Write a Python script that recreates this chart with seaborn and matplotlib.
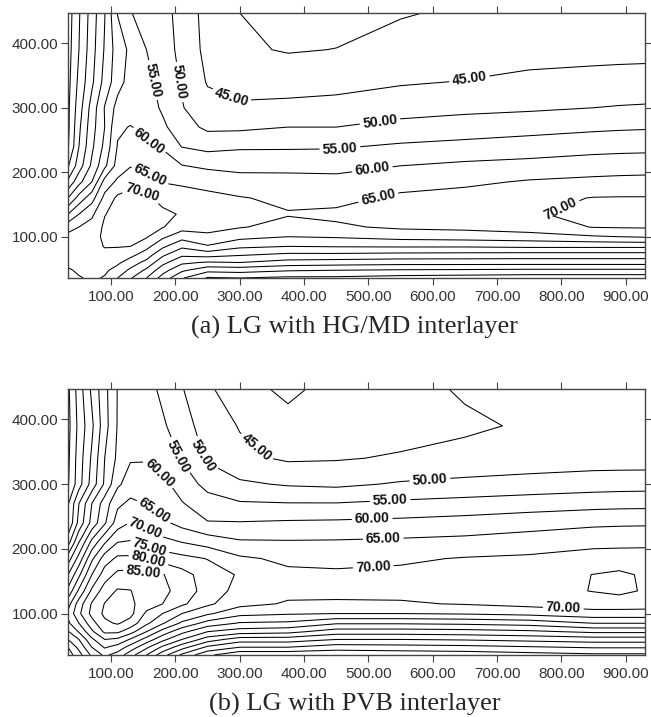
import numpy as np
import matplotlib
matplotlib.use("Agg")
import matplotlib.pyplot as plt
import seaborn as sns
from matplotlib.ticker import FormatStrFormatter

# grid nodes (x along the horizontal axis, y along the vertical axis)
x_nodes = [33, 50, 70, 90, 110, 130, 155, 180, 210, 250, 300, 375, 450, 550, 650, 750, 850, 890, 930]
y_nodes = [36, 48, 60, 72, 85, 100, 115, 135, 160, 185, 210, 240, 270, 300, 340, 390, 447]

# values, one list per x node, bottom to top
hgmd_columns = [
    [62, 64.2, 66.5, 67.5, 67.5, 66.5, 63, 55, 45, 36, 29.5, 24.5, 24, 24, 23.5, 23, 22.5],
    [64.5, 66, 67.5, 68.5, 68.5, 67.5, 65, 60, 52, 43.5, 37.5, 35, 34, 32.7, 31.3, 30, 29.5],
    [66, 67, 68, 68.5, 68.5, 68, 67, 64, 58, 50, 46, 44, 43, 42, 39, 38, 37.3],
    [64.5, 66, 67.5, 69, 70.2, 71, 70.8, 69.8, 66.5, 62, 53.8, 51.3, 50, 50.3, 46.8, 45.5, 44.8],
    [60, 63, 66, 68.5, 70.2, 71.3, 71.8, 71.5, 71, 66, 62, 60.3, 59.3, 56.8, 53, 52.5, 55.2],
    [55.5, 59, 62.5, 66.5, 70, 72, 72.8, 72.6, 71.6, 68.5, 64.7, 62.3, 60.2, 58, 57, 56, 55.3],
    [50, 54, 58.5, 62.5, 66.5, 70.5, 72, 72.3, 71, 67.5, 63.3, 60.7, 58.8, 57.3, 56.3, 55, 52.5],
    [43, 47, 51.5, 56, 61, 66, 70.3, 71.2, 68.3, 64.8, 62.5, 59.5, 56, 54.3, 53.3, 52.2, 51.5],
    [35.5, 41, 46, 51, 56, 62, 67, 69.5, 67, 64.3, 60.2, 54.8, 52, 50.3, 49.5, 48.7, 48.5],
    [29.5, 36.5, 44.5, 52, 59.5, 64, 66.5, 67.5, 66.2, 63.5, 59, 53.5, 49, 46.8, 44.6, 43.5, 43],
    [30, 37, 45, 50.5, 56, 61.5, 65.3, 67, 65.3, 62, 58.5, 54.3, 49, 46, 42.5, 40.8, 40],
    [29, 35.5, 43, 49, 55, 60, 63.5, 65.3, 64, 61.5, 58.8, 54.3, 50, 46, 43.3, 39.6, 38.5],
    [29, 35, 42.5, 49, 55.3, 60.5, 64.3, 66, 63.5, 61.5, 58.5, 54.5, 50, 46.5, 43.5, 40.1, 38],
    [28, 34.5, 42, 48.5, 55.5, 61.8, 65.8, 67.2, 66, 63, 60, 55.7, 51.5, 48, 44.5, 41.5, 39.7],
    [27.5, 34.3, 42, 48.3, 55.5, 62.3, 66.3, 67.8, 67, 64, 61, 56.5, 52.3, 48.8, 45.2, 42.3, 40.6],
    [27, 34, 42, 48, 56, 63, 67.5, 69.5, 68.5, 65.5, 61.5, 57.5, 53, 49.3, 46.2, 43, 41],
    [27, 34, 42, 48, 56, 64.5, 70.2, 71.3, 70.2, 66.2, 62.5, 58.2, 54, 50, 46.7, 43.3, 41.3],
    [27, 34, 42, 48, 56, 65, 70.4, 71.4, 70.3, 66.4, 62.8, 58.4, 54.3, 50.3, 46.9, 43.4, 41.4],
    [27, 34, 42, 48, 56, 65.5, 70.5, 71.5, 70.3, 66.5, 63, 58.5, 54.5, 50.5, 47, 43.5, 41.5],
]

# values
pvb_columns = [
    [52.5, 55, 60, 64.5, 69, 71, 68, 61.5, 55, 47.5, 38, 30.5, 29.5, 24.5, 24, 23.5, 24],
    [58, 61.5, 65, 70.5, 75, 79, 77.5, 71, 64, 57, 50, 41.7, 40, 33, 32.5, 31.5, 32.5],
    [66, 70, 74, 79, 83, 86.5, 85.5, 81, 75, 69, 61.5, 51.7, 50, 42, 40.8, 39, 41],
    [71, 75.5, 80, 86, 89, 91, 90.2, 87.5, 82.5, 77.5, 69.5, 59.3, 57.5, 50.8, 50, 48, 48.5],
    [68, 73, 79, 86, 90.5, 92.5, 91.5, 90.5, 86.3, 81, 75, 67.5, 64, 59, 56, 55.3, 55.2],
    [62, 68, 74.5, 82, 88, 91.5, 91, 90.2, 86.8, 81, 75.5, 70.3, 66, 62.5, 59.5, 58, 57.5],
    [55, 61, 68, 75, 81, 84, 87.5, 87, 86, 80.2, 73.5, 68.5, 64.8, 63, 59.5, 57.5, 57],
    [47, 54, 61.5, 68, 75.5, 80, 85, 86, 85.3, 78, 71.5, 66.2, 62.5, 61.2, 57.7, 55.8, 53.8],
    [39, 47, 55, 61.5, 69, 75, 81, 83.5, 82, 76.5, 70, 63.3, 60.3, 58, 54.6, 52, 50.3],
    [31, 39, 47.5, 55, 63, 70.8, 76, 77.5, 77.5, 74.8, 68, 60.3, 57.3, 53.3, 49.3, 47.8, 45.8],
    [26, 35, 42.5, 52.5, 59.5, 66.5, 71.5, 73.5, 74.5, 70.8, 65.7, 60.3, 55.5, 50.8, 46.2, 44.7, 42],
    [26, 35, 42.5, 51.5, 59, 65.5, 69.5, 71.3, 71, 69, 65.5, 60.7, 55.2, 49.5, 44.3, 41.8, 38.8],
    [26, 32.5, 40, 47.5, 55.5, 65, 69.5, 71, 70.7, 68.8, 65.6, 60.9, 55.2, 49, 44.6, 42.3, 42],
    [26.5, 33, 40, 47.5, 55.5, 65, 69.5, 71.3, 71, 69.3, 66, 61.3, 56, 50.5, 45.5, 43, 43.5],
    [27, 33.5, 40.5, 48, 56, 65.5, 70.3, 72, 71.5, 70.3, 66.5, 62, 56.7, 51.3, 46.3, 44.3, 45.5],
    [28, 34.5, 41.5, 49, 57, 66.5, 71.5, 73, 72.5, 70.8, 67.5, 63, 57.5, 52, 47, 45.5, 46.5],
    [29, 35.5, 42.5, 51, 60, 68.3, 72.3, 75.2, 75.1, 72, 68.7, 64, 58.2, 52.7, 47.5, 46.2, 46.2],
    [29, 35.5, 42.5, 51, 60, 68.3, 72.3, 76.2, 76, 72, 68.9, 64.2, 58.4, 52.9, 47.5, 46.1, 45.9],
    [29, 35.5, 42.5, 51, 60, 68.3, 72, 74.5, 74.3, 72, 69, 64.3, 58.5, 53, 47.5, 46, 45.5],
]

levels = [20, 25, 30, 35, 40, 45, 50, 55, 60, 65, 70, 75, 80, 85, 90]
x_ticks = [100, 200, 300, 400, 500, 600, 700, 800, 900]
y_ticks = [100, 200, 300, 400]

# where the contour values are written on the lines
hgmd_label_spots = [(165, 343), (207, 340), (285, 312), (156, 245), (156, 188), (145, 157),
                    (658, 338), (518, 278), (456, 234), (506, 206), (514, 167), (798, 146)]
pvb_label_spots = [(327, 358), (249, 346), (204, 343), (173, 315), (168, 260), (153, 233),
                   (161, 206), (158, 183), (150, 164), (596, 302), (534, 268), (506, 242),
                   (523, 216), (507, 183), (803, 110)]

sns.set_style("ticks")
plt.rcParams['font.family'] = ['Liberation Sans', 'DejaVu Sans']


def draw_panel(ax, columns, label_spots):
    z = np.array(columns).T
    cs = ax.contour(x_nodes, y_nodes, z, levels=levels, colors='black', linewidths=0.75)
    texts = ax.clabel(cs, fmt='%.2f', fontsize=10, manual=label_spots, inline=True, inline_spacing=3)
    for t in texts:
        t.set_fontweight('bold')
        t.set_color('#111111')
    ax.set_xlim(33, 930)
    ax.set_ylim(36, 447)
    ax.set_xticks(x_ticks)
    ax.set_yticks(y_ticks)
    ax.xaxis.set_major_formatter(FormatStrFormatter('%.2f'))
    ax.yaxis.set_major_formatter(FormatStrFormatter('%.2f'))
    ax.tick_params(direction='out', top=True, right=True, labeltop=False, labelright=False,
                   length=5, width=0.8, color='#444444', labelcolor='#333333', labelsize=11)
    ax.tick_params(axis='x', pad=3.5)
    ax.tick_params(axis='y', pad=2.2)
    for sp in ax.spines.values():
        sp.set_color('#444444')
        sp.set_linewidth(1.0)
    ax.set_xlabel('')
    ax.set_ylabel('')


fig = plt.figure(figsize=(6.51, 7.17), dpi=100)
ax_a = fig.add_axes([0.1045, 0.6123, 0.8863, 0.3696])
ax_b = fig.add_axes([0.1045, 0.0865, 0.8863, 0.3710])

draw_panel(ax_a, hgmd_columns, hgmd_label_spots)
draw_panel(ax_b, pvb_columns, pvb_label_spots)

fig.text(0.545, 1 - 327 / 717, '(a) LG with HG/MD interlayer', family=['Liberation Serif'],
         size=19, ha='center', va='center')
fig.text(0.545, 1 - 704 / 717, '(b) LG with PVB interlayer', family=['Liberation Serif'],
         size=19, ha='center', va='center')

fig.savefig('out.png', dpi=100)
